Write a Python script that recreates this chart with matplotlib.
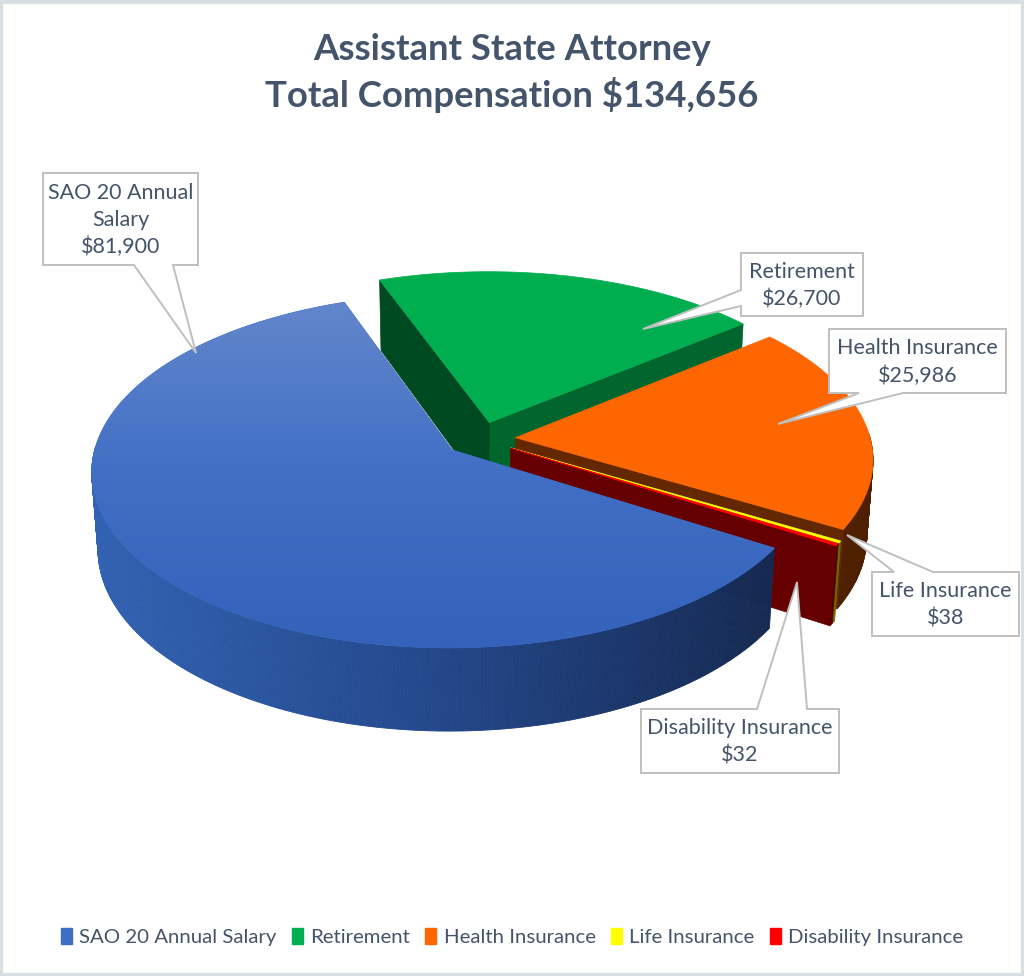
import numpy as np
import matplotlib
matplotlib.use('Agg')
import matplotlib.pyplot as plt
from matplotlib.patches import Polygon, Patch, Rectangle
from matplotlib.colors import LinearSegmentedColormap

# data
labels = ['SAO 20 Annual Salary', 'Retirement', 'Health Insurance',
          'Life Insurance', 'Disability Insurance']
values = [81900, 26700, 25986, 38, 32]
box_text = ['SAO 20 Annual\nSalary\n$81,900', 'Retirement\n$26,700',
            'Health Insurance\n$25,986', 'Life Insurance\n$38',
            'Disability Insurance\n$32']
title = 'Assistant State Attorney\nTotal Compensation $134,656'

# colours: top, cut faces, outer wall (left, mid, right)
top_col = ['#3f6fc5', '#00ad4f', '#fd6600', '#ffff00', '#ff0000']
cut_col = ['#1d3a73', '#004a21', '#642800', '#7f7f00', '#660000']
front_cut_col = ['#1d3a73', '#00662e', '#642800', '#7f7f00', '#660000']
wall_col = [('#3262b2', '#23478a', '#15284f'), ('#00662e', '#00662e', '#004a21'),
            ('#6e2e00', '#612800', '#4f2000'), ('#8a8a00', '#7a7a00', '#6a6a00'),
            ('#700000', '#660000', '#550000')]
TXT = '#44546a'

# geometry of the fake 3d pie
FIRST = -31.8     # start angle of first slice (deg, counter-clockwise from east)
MIN_SPAN = 0.8    # tiny slices are drawn at least this wide (deg), like Excel
ELEV = np.radians(29)
DIST = 7.5
H = 0.25
EXPL = 0.1
K = 355.0
CX, CY = 480.0, 439.0

def proj(x, y, z):
    yv = y * np.sin(ELEV) + z * np.cos(ELEV)
    depth = y * np.cos(ELEV) - z * np.sin(ELEV)
    s = DIST / (DIST + depth)
    return CX + K * x * s, CY - K * yv * s

fig = plt.figure(figsize=(10.24, 9.76), dpi=100)
ax = fig.add_axes([0, 0, 1, 1])
ax.set_xlim(0, 1024)
ax.set_ylim(976, 0)
ax.axis('off')
fig.patch.set_facecolor('white')
fig.add_artist(Rectangle((0.001, 0.001), 0.998, 0.997, transform=fig.transFigure,
                         fill=False, edgecolor='#d9dee5', linewidth=3))

vals = np.array(values, dtype=float)
span = np.maximum(vals / vals.sum() * 360, MIN_SPAN)
span = span * 360 / span.sum()
cum = np.concatenate([[0], np.cumsum(span)])
slices = []
for i in range(len(vals)):
    hi = FIRST - cum[i]
    lo = hi - span[i]
    mid = np.radians((hi + lo) / 2)
    slices.append((i, np.radians(lo), np.radians(hi), mid))

# far slices first
order = sorted(slices, key=lambda s: -np.sin(s[3]))
z = 1
for i, lo, hi, mid in order:
    ox, oy = EXPL * np.cos(mid), EXPL * np.sin(mid)
    n = max(int(np.degrees(hi - lo) * 2), 2)
    th = np.linspace(lo, hi, n)
    xs, ys = ox + np.cos(th), oy + np.sin(th)
    tx, ty = proj(xs, ys, 0 * th)
    bx, by = proj(xs, ys, 0 * th - H)
    ax_t = proj(ox, oy, 0)
    ax_b = proj(ox, oy, -H)
    cmap = LinearSegmentedColormap.from_list('w%d' % i, wall_col[i])
    # outer wall
    for k in range(n - 1):
        if np.sin((th[k] + th[k + 1]) / 2) >= 0.02:
            continue
        t = np.clip((tx[k] - 90) / (790 - 90), 0, 1)
        quad = [(tx[k], ty[k]), (tx[k + 1], ty[k + 1]),
                (bx[k + 1], by[k + 1]), (bx[k], by[k])]
        ax.add_patch(Polygon(quad, closed=True, facecolor=cmap(t),
                             edgecolor=cmap(t), linewidth=0.6, zorder=z))
    z += 1
    # cut faces
    for ang, idx, sgn in ((lo, 0, 1), (hi, -1, -1)):
        if sgn * np.cos(ang) <= 0:
            continue
        quad = [ax_t, (tx[idx], ty[idx]), (bx[idx], by[idx]), ax_b]
        c = front_cut_col[i] if sgn > 0 else cut_col[i]
        ax.add_patch(Polygon(quad, closed=True, facecolor=c, edgecolor=c,
                             linewidth=0.5, zorder=z))
    z += 1
    # top face
    pts = [ax_t] + list(zip(tx, ty))
    top = Polygon(pts, closed=True, facecolor=top_col[i], edgecolor=top_col[i],
                  linewidth=0.5, zorder=z)
    ax.add_patch(top)
    if i == 0:
        ymin, ymax = min(p[1] for p in pts), max(p[1] for p in pts)
        xmin, xmax = min(p[0] for p in pts), max(p[0] for p in pts)
        g = LinearSegmentedColormap.from_list('g', ['#6286cb', '#416fc5', '#3462bb'])
        grad = g(np.linspace(0, 1, 256))[:, None, :3] * np.ones((1, 4, 1))
        im = ax.imshow(grad, extent=(xmin, xmax, ymax, ymin), origin='upper',
                       aspect='auto', zorder=z + 0.5)
        im.set_clip_path(top)
    z += 2

ax.set_xlim(0, 1024)
ax.set_ylim(976, 0)

# callouts: box (x0, y0, x1, y1), tail side, tail base (a, b), tip
boxes = [
    ((43, 173, 198, 265), 'bottom', (134, 173), (196, 353)),
    ((741, 253, 863, 316), 'left', (290, 306), (643, 329)),
    ((829, 329, 1006, 393), 'bottom', (859, 903), (778, 424)),
    ((872, 572, 1019, 636), 'top', (894, 933), (847, 535)),
    ((641, 709, 839, 773), 'top', (757, 807), (797, 582)),
]
for txt, (rect, side, (a, b), tip) in zip(box_text, boxes):
    x0, y0, x1, y1 = rect
    if side == 'bottom':
        pts = [(x0, y0), (x1, y0), (x1, y1), (b, y1), tip, (a, y1), (x0, y1)]
    elif side == 'top':
        pts = [(x0, y0), (a, y0), tip, (b, y0), (x1, y0), (x1, y1), (x0, y1)]
    else:
        pts = [(x0, y0), (x1, y0), (x1, y1), (x0, y1), (x0, b), tip, (x0, a)]
    ax.add_patch(Polygon(pts, closed=True, facecolor='white', edgecolor='#bfbfbf',
                         linewidth=1.4, zorder=50))
    ax.text((x0 + x1) / 2, (y0 + y1) / 2 + 1, txt, ha='center', va='center',
            fontsize=15.5, color=TXT, family='Lato', linespacing=1.45, zorder=51)

fig.text(0.5, 1 - 73 / 976, title, ha='center', va='center', fontsize=26.3,
         fontweight='bold', color=TXT, family='Lato', linespacing=1.38)

handles = [Patch(facecolor=c, edgecolor=c) for c in top_col]
fig.legend(handles, labels, loc='center', bbox_to_anchor=(0.5, 1 - 937 / 976),
           ncol=5, frameon=False, handlelength=0.55, handleheight=0.85,
           handletextpad=0.35, columnspacing=0.75,
           prop={'family': 'Lato', 'size': 14.7}, labelcolor=TXT)

fig.savefig('out.png', dpi=100)
